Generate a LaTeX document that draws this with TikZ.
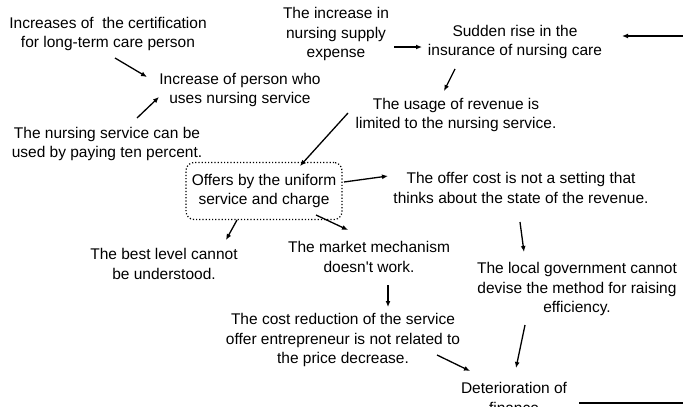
\documentclass[tikz,border=0pt]{standalone}
\usepackage{fontspec}
\setmainfont{Liberation Sans}
\usetikzlibrary{arrows.meta}

\begin{document}
\begin{tikzpicture}[x=1pt,y=-1pt]
  \tikzstyle{cause}=[align=center,inner sep=2pt,font=\fontsize{15.5}{19.5}\selectfont]
  \tikzstyle{uniformbox}=[cause,draw=black,dotted,line width=1.2pt,rounded corners=8pt,minimum width=156pt,minimum height=57pt]
  \tikzstyle{edge}=[-{Latex[length=6pt,width=5pt]},line width=1.3pt]
  \useasboundingbox[fill=white] (0,0) rectangle (683,407);

  \node[cause] (cert) at (108,34) {Increases of\ \ the certification\\for long-term care person};
  \node[cause] (user) at (240,90) {Increase of person who\\uses nursing service};
  \node[cause] (ten) at (107,144) {The nursing service can be\\used by paying ten percent.};

  \node[cause] (supply) at (336,34) {The increase in\\nursing supply\\expense};
  \node[cause] (rise) at (515,42) {Sudden rise in the\\insurance of nursing care};
  \node[cause] (limit) at (456,115) {The usage of revenue is\\limited to the nursing service.};

  \node[uniformbox] (uniform) at (264,191) {Offers by the uniform\\service and charge};
  \node[cause] (offer) at (521,188) {The offer cost is not a setting that\\thinks about the state of the revenue.};

  \node[cause] (best) at (164,264) {The best level cannot\\be understood.};
  \node[cause] (market) at (369,257) {The market mechanism\\doesn\textquotesingle t work.};
  \node[cause] (local) at (577,289) {The local government cannot\\devise the method for raising\\efficiency.};
  \node[cause] (cost) at (343,340) {The cost reduction of the service\\offer entrepreneur is not related to\\the price decrease.};

  % finance
  \node[cause] (det) at (514,398) {Deterioration of\\finance};
  \coordinate (loopin) at (683,36);
  \coordinate (loopout) at (683,403);

  % edges
  \draw[edge] ([shift={(7,24)}]cert.center) -- ([shift={(-93,-13)}]user.center);
  \draw[edge] ([shift={(30,-26)}]ten.center) -- ([shift={(-81,7)}]user.center);
  \draw[edge] ([shift={(58,13)}]supply.center) -- ([shift={(-93,5)}]rise.center);
  \draw[edge] ([shift={(-60,27)}]rise.center) -- ([shift={(-12,-24)}]limit.center);
  \draw[edge] ([shift={(-108,-2)}]limit.center) -- ([shift={(36,-25)}]uniform.center);
  \draw[edge] ([shift={(80,-9)}]uniform.center) -- ([shift={(-133,-12)}]offer.center);
  \draw[edge] ([shift={(-27,29)}]uniform.center) -- ([shift={(62,-24)}]best.center);
  \draw[edge] ([shift={(52,24)}]uniform.center) -- ([shift={(-21,-27)}]market.center);
  \draw[edge] ([shift={(-1,34)}]offer.center) -- ([shift={(-53,-37)}]local.center);
  \draw[edge] ([shift={(19,28)}]market.center) -- ([shift={(45,-33)}]cost.center);
  \draw[edge] ([shift={(94,15)}]cost.center) -- ([shift={(-44,-27)}]det.center);
  \draw[edge] ([shift={(-52,36)}]local.center) -- ([shift={(2,-30)}]det.center);
  \draw[edge] (loopin) -- ([shift={(107,-6)}]rise.center);
  \draw[line width=1.3pt] ([shift={(65,5)}]det.center) -- (loopout);

\end{tikzpicture}
\end{document}
